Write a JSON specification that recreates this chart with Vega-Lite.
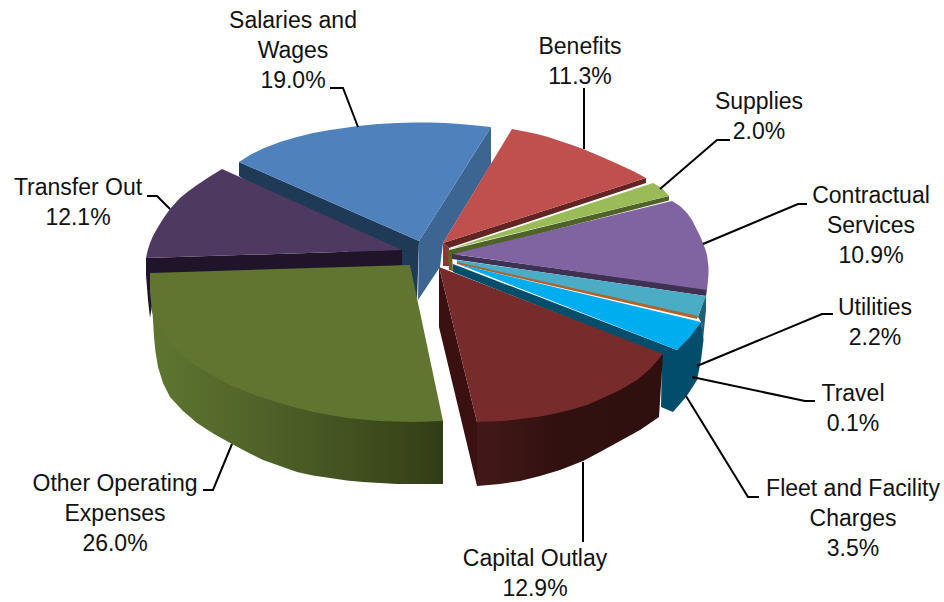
{
  "$schema": "https://vega.github.io/schema/vega-lite/v6.json",
  "width": 944,
  "height": 602,
  "padding": 0,
  "autosize": {"type": "none"},
  "background": "#ffffff",
  "config": {"view": {"stroke": null}},
  "projection": {"type": "identity", "scale": 1, "translate": [0, 0]},
  "resolve": {"scale": {"color": "independent"}},
  "datasets": {
    "faces": [
      {"type":"Feature","properties":{"part":"Salaries inner wall"},"geometry":{"type":"Polygon","coordinates":[[[239,162],[239,176],[417,300],[419,241],[239,162]]]}},
      {"type":"Feature","properties":{"part":"Salaries outer wall"},"geometry":{"type":"Polygon","coordinates":[[[491,127],[491,164],[443,243],[440,267],[418,300],[419,241],[491,127]]]}},
      {"type":"Feature","properties":{"part":"Salaries top"},"geometry":{"type":"Polygon","coordinates":[[[239,162],[250,155],[263,148.5],[280,142],[297,137],[313,133],[330,130],[344,128],[358,126],[378,124],[397,123],[414,122.5],[430,122.5],[445,123],[460,124],[476,125.5],[491,127],[419,241],[239,162]]]}},
      {"type":"Feature","properties":{"part":"Transfer wall"},"geometry":{"type":"Polygon","coordinates":[[[146,258],[146,275],[148,300],[150,318],[153,300],[402,265],[402,250],[146,258]]]}},
      {"type":"Feature","properties":{"part":"Transfer top"},"geometry":{"type":"Polygon","coordinates":[[[222,169],[209,177],[197,185],[188,191.5],[180,198],[170,209],[163,219],[158,227],[153,236],[150,243],[147.5,251],[146,258],[402,250],[222,169]]]}},
      {"type":"Feature","properties":{"part":"Benefits left"},"geometry":{"type":"Polygon","coordinates":[[[443,243],[449,248],[449,266],[443,266],[443,243]]]}},
      {"type":"Feature","properties":{"part":"Benefits wall"},"geometry":{"type":"Polygon","coordinates":[[[443,243],[646,178],[646,183],[449,248],[443,243]]]}},
      {"type":"Feature","properties":{"part":"Benefits top"},"geometry":{"type":"Polygon","coordinates":[[[443,243],[512,129],[525,131.5],[537,134],[548,137],[560,141],[572,145],[583,149],[602,157],[620,165],[634,171.5],[646,178],[443,243]]]}},
      {"type":"Feature","properties":{"part":"Supplies left"},"geometry":{"type":"Polygon","coordinates":[[[448,250],[452,253],[453,271],[449,270],[448,250]]]}},
      {"type":"Feature","properties":{"part":"Supplies wall"},"geometry":{"type":"Polygon","coordinates":[[[449,250],[669,196],[669,200.5],[452,256],[449,256],[449,250]]]}},
      {"type":"Feature","properties":{"part":"Supplies top"},"geometry":{"type":"Polygon","coordinates":[[[450,249],[653,183],[662,188],[669,196],[450,249]]]}},
      {"type":"Feature","properties":{"part":"Contractual wall"},"geometry":{"type":"Polygon","coordinates":[[[452,254],[707,289],[706,296],[452,259],[452,254]]]}},
      {"type":"Feature","properties":{"part":"Contractual top"},"geometry":{"type":"Polygon","coordinates":[[[453,254],[672,201],[680,206],[687,213],[692,220],[696,228],[700,236],[703,243],[705.5,250],[707,255],[708.5,267],[708.5,274],[708,280],[707,290],[453,254]]]}},
      {"type":"Feature","properties":{"part":"Utilities wall"},"geometry":{"type":"Polygon","coordinates":[[[706,294],[706,310],[703,340],[701,322],[698,317],[706,294]]]}},
      {"type":"Feature","properties":{"part":"Utilities top"},"geometry":{"type":"Polygon","coordinates":[[[457,260],[706,296],[698,317],[457,263],[457,260]]]}},
      {"type":"Feature","properties":{"part":"Travel top"},"geometry":{"type":"Polygon","coordinates":[[[457,262],[698,316],[697,319],[457,264],[457,262]]]}},
      {"type":"Feature","properties":{"part":"Fleet wall"},"geometry":{"type":"Polygon","coordinates":[[[677,350],[701,322],[703.5,340],[701,360],[697,380],[692,388],[686,397],[673,412],[661,407],[662,355],[453,272],[453,264],[677,350]]]}},
      {"type":"Feature","properties":{"part":"Fleet top"},"geometry":{"type":"Polygon","coordinates":[[[458,264],[701,322],[690,337],[677,350],[458,264]]]}},
      {"type":"Feature","properties":{"part":"Capital left wall"},"geometry":{"type":"Polygon","coordinates":[[[439,267],[439,327],[477,486],[477,422],[439,267]]]}}
    ],
    "otherWall": [
      {"type":"Feature","properties":{"part":"Other wall"},"geometry":{"type":"Polygon","coordinates":[[[151,290],[153,320],[154,337],[155.5,352],[158,367],[163,383],[170,397],[183,411],[197,423],[214,434],[232,444],[247,452],[263,460],[280,466],[297,472],[313,475.5],[330,478],[347,480.5],[363,482],[397,484],[443,484],[443,421],[350,380],[200,320],[151,290]]]}}
    ],
    "capitalWall": [
      {"type":"Feature","properties":{"part":"Capital wall"},"geometry":{"type":"Polygon","coordinates":[[[663,354],[659,417],[640,430],[620,441],[600,452],[583,461],[560,470],[540,476],[520,481],[500,484],[477,486],[477,422],[600,360],[663,354]]]}}
    ],
    "frontTops": [
      {"type":"Feature","properties":{"part":"Capital top"},"geometry":{"type":"Polygon","coordinates":[[[439,267],[663,354],[650,369],[637,380],[620,390],[603,398],[587,405],[570,410],[553,414],[537,417],[520,419],[503,421],[477,422],[439,267]]]}},
      {"type":"Feature","properties":{"part":"Other top"},"geometry":{"type":"Polygon","coordinates":[[[150,273],[150,292],[152,312],[157,324],[163,333],[171,344],[180,353],[195,365],[213,376],[230,385],[247,392],[263,398],[280,403],[297,408],[313,412],[330,415],[347,418],[380,421],[413,422],[443,421],[410,265],[150,273]]]}}
    ],
    "leaders": [
      {"type":"Feature","properties":{"category":"Salaries and Wages"},"geometry":{"type":"LineString","coordinates":[[330,88],[343,88],[358,127]]}},
      {"type":"Feature","properties":{"category":"Benefits"},"geometry":{"type":"LineString","coordinates":[[584,88],[584,149]]}},
      {"type":"Feature","properties":{"category":"Supplies"},"geometry":{"type":"LineString","coordinates":[[730,140],[717,140],[660,189]]}},
      {"type":"Feature","properties":{"category":"Contractual Services"},"geometry":{"type":"LineString","coordinates":[[807,204],[798,204],[703,244]]}},
      {"type":"Feature","properties":{"category":"Utilities"},"geometry":{"type":"LineString","coordinates":[[833,314],[822,314],[697,366]]}},
      {"type":"Feature","properties":{"category":"Travel"},"geometry":{"type":"LineString","coordinates":[[815,401],[805,401],[692,377]]}},
      {"type":"Feature","properties":{"category":"Fleet and Facility Charges"},"geometry":{"type":"LineString","coordinates":[[759,497],[748,497],[686,396]]}},
      {"type":"Feature","properties":{"category":"Capital Outlay"},"geometry":{"type":"LineString","coordinates":[[583,462],[583,542]]}},
      {"type":"Feature","properties":{"category":"Other Operating Expenses"},"geometry":{"type":"LineString","coordinates":[[203,490],[213,490],[232,444]]}},
      {"type":"Feature","properties":{"category":"Transfer Out"},"geometry":{"type":"LineString","coordinates":[[147,196],[157,196],[170,209]]}}
    ],
    "labels": [
      {"category":"Salaries and Wages","share":19.0,"label":"Salaries and\nWages\n19.0%","lon":293,"lat":28},
      {"category":"Benefits","share":11.3,"label":"Benefits\n11.3%","lon":580,"lat":54},
      {"category":"Supplies","share":2.0,"label":"Supplies\n2.0%","lon":759,"lat":109},
      {"category":"Contractual Services","share":10.9,"label":"Contractual\nServices\n10.9%","lon":871,"lat":203},
      {"category":"Utilities","share":2.2,"label":"Utilities\n2.2%","lon":875,"lat":315},
      {"category":"Travel","share":0.1,"label":"Travel\n0.1%","lon":853,"lat":401},
      {"category":"Fleet and Facility Charges","share":3.5,"label":"Fleet and Facility\nCharges\n3.5%","lon":853,"lat":496},
      {"category":"Capital Outlay","share":12.9,"label":"Capital Outlay\n12.9%","lon":535,"lat":566},
      {"category":"Other Operating Expenses","share":26.0,"label":"Other Operating\nExpenses\n26.0%","lon":115,"lat":491},
      {"category":"Transfer Out","share":12.1,"label":"Transfer Out\n12.1%","lon":78,"lat":195}
    ]
  },
  "layer": [
    {
      "data": {"name": "faces"},
      "mark": {"type": "geoshape"},
      "encoding": {
        "color": {
          "field": "properties.part",
          "type": "nominal",
          "legend": null,
          "scale": {
            "domain": ["Salaries inner wall","Salaries outer wall","Salaries top","Transfer wall","Transfer top","Benefits left","Benefits wall","Benefits top","Supplies left","Supplies wall","Supplies top","Contractual wall","Contractual top","Utilities wall","Utilities top","Travel top","Fleet wall","Fleet top","Capital left wall"],
            "range": ["#1f3a57","#3d6591","#4f81bd","#20142a","#4e3a60","#8a3836","#632523","#c0504d","#6b6220","#4f6228","#9bbb59","#3f3151","#8064a2","#245f74","#4bacc6","#b0622c","#004d6c","#00aeef","#3a1010"]
          }
        }
      }
    },
    {
      "data": {"name": "otherWall"},
      "mark": {
        "type": "geoshape",
        "fill": {
          "gradient": "linear", "x1": 0, "y1": 0, "x2": 1, "y2": 0,
          "stops": [
            {"offset": 0, "color": "#5f7630"},
            {"offset": 0.5, "color": "#4a5c26"},
            {"offset": 0.85, "color": "#3a4719"},
            {"offset": 1, "color": "#313c17"}
          ]
        }
      }
    },
    {
      "data": {"name": "capitalWall"},
      "mark": {
        "type": "geoshape",
        "fill": {
          "gradient": "linear", "x1": 0, "y1": 0, "x2": 1, "y2": 0,
          "stops": [
            {"offset": 0, "color": "#451818"},
            {"offset": 0.45, "color": "#311010"},
            {"offset": 1, "color": "#2f0f0f"}
          ]
        }
      }
    },
    {
      "data": {"name": "frontTops"},
      "mark": {"type": "geoshape"},
      "encoding": {
        "color": {
          "field": "properties.part",
          "type": "nominal",
          "legend": null,
          "scale": {"domain": ["Capital top","Other top"], "range": ["#772b2a","#60752f"]}
        }
      }
    },
    {
      "data": {"name": "leaders"},
      "mark": {"type": "geoshape", "filled": false, "stroke": "#000000", "strokeWidth": 2, "fill": null}
    },
    {
      "data": {"name": "labels"},
      "mark": {"type": "text", "font": "Liberation Sans", "fontSize": 23, "lineBreak": "\n", "lineHeight": 30, "align": "center", "baseline": "alphabetic", "color": "#111111"},
      "encoding": {
        "longitude": {"field": "lon", "type": "quantitative"},
        "latitude": {"field": "lat", "type": "quantitative"},
        "text": {"field": "label", "type": "nominal"}
      }
    }
  ]
}
